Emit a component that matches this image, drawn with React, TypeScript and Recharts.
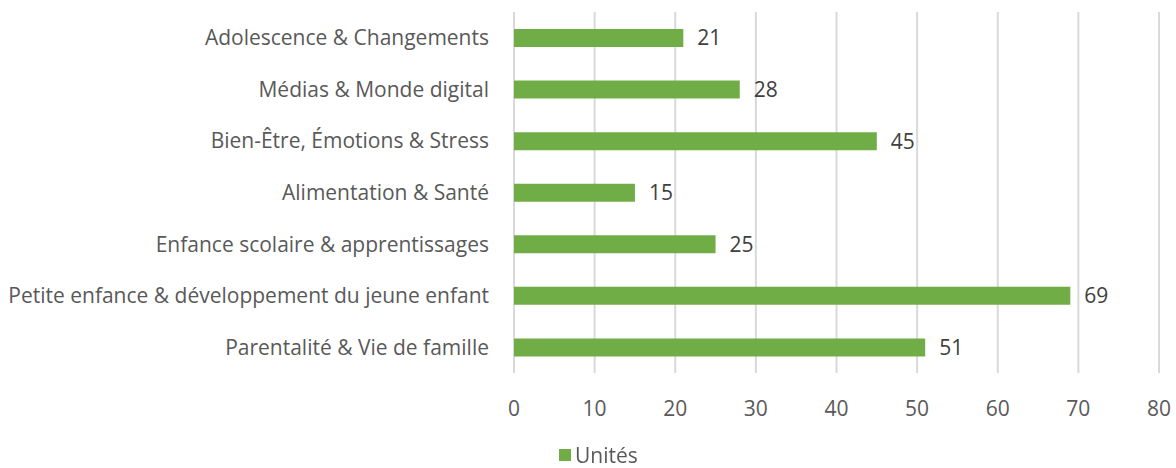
import { BarChart, Bar, XAxis, YAxis, CartesianGrid, Legend, LabelList } from 'recharts';

const categories = [
  'Adolescence & Changements',
  'Médias & Monde digital',
  'Bien-Être, Émotions & Stress',
  'Alimentation & Santé',
  'Enfance scolaire & apprentissages',
  'Petite enfance & développement du jeune enfant',
  'Parentalité & Vie de famille',
];
const unites = [21, 28, 45, 15, 25, 69, 51];
const xTicks = [0, 10, 20, 30, 40, 50, 60, 70, 80];

const data = categories.map((name, i) => ({ name, value: unites[i] }));

const FONT = '"Open Sans", "Liberation Sans", sans-serif';
const FS = 21;

const LegendBox = () => (
  <div style={{ display: 'flex', alignItems: 'center', fontFamily: FONT, fontSize: FS, color: '#595959', paddingLeft: 559, lineHeight: '22px', height: 22 }}>
    <span style={{ width: 12, height: 12, background: '#70AD47', display: 'inline-block', marginRight: 4 }} />
    <span>Unités</span>
  </div>
);

export default function App() {
  return (
    <div style={{ position: 'fixed', top: 0, left: 0, background: '#fff', width: 1176, height: 468 }}>
      <BarChart width={1176} height={468} data={data} layout="vertical" margin={{ top: 12, right: 17, bottom: 0, left: 0 }}>
        <CartesianGrid horizontal={false} vertical stroke="#d9d9d9" strokeWidth={2} />
        <XAxis type="number" domain={[0, 80]} ticks={xTicks} axisLine={false} tickLine={false} tickMargin={22} height={73}
          tick={{ fill: '#595959', fontSize: FS, fontFamily: FONT }} />
        <YAxis type="category" dataKey="name" width={514} axisLine={false} tickLine={false} tickMargin={19}
          tick={{ fill: '#595959', fontSize: FS, fontFamily: FONT }} />
        <Legend verticalAlign="bottom" height={22} content={<LegendBox />}
          wrapperStyle={{ position: 'absolute', top: 444, left: 0, width: 1176, height: 22, bottom: 'auto' }} />
        <Bar dataKey="value" name="Unités" fill="#70AD47" barSize={18} isAnimationActive={false}>
          <LabelList dataKey="value" position="right" offset={14} fill="#404040" fontSize={FS} fontFamily={FONT} />
        </Bar>
      </BarChart>
    </div>
  );
}
